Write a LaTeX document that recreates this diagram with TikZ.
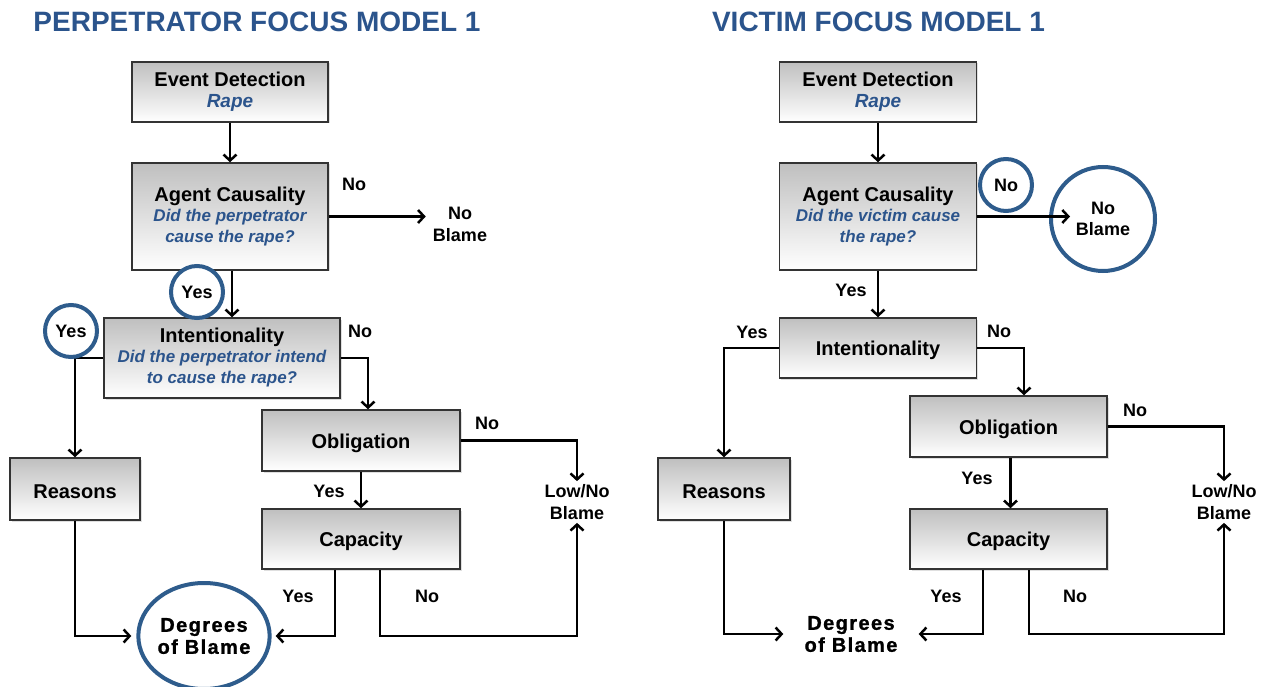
\documentclass[tikz,border=0pt]{standalone}
\usepackage{fontspec}
\setmainfont{Liberation Sans}
\newfontfamily\heavyfont[LetterSpace=7,FakeBold=1]{Liberation Sans}
\usetikzlibrary{arrows.meta,shapes.geometric,shadows}
\definecolor{titleblue}{RGB}{43,84,140}
\definecolor{ringblue}{RGB}{46,92,140}
\newcommand{\ask}[1]{{\fontsize{17}{21}\selectfont\itshape\color{titleblue}#1}}

\begin{document}
\begin{tikzpicture}[x=1pt,y=-1pt,line width=2.5pt,
  >={Straight Barb[length=6pt,width=13pt]},
  blk/.style={draw=black!80,line width=1.5pt,top color=black!25,middle color=black!3,bottom color=white,
    drop shadow={opacity=0.25,shadow xshift=1.5pt,shadow yshift=-1.5pt},
    align=center,inner sep=0pt,font=\fontsize{20}{21}\selectfont\bfseries,
    execute at begin node={\rule{0pt}{20pt}}},
  ring/.style={circle,draw=ringblue,line width=4pt,fill=white,inner sep=0pt,
    align=center,font=\fontsize{18}{21}\selectfont\bfseries},
  lbl/.style={align=center,inner sep=2pt,font=\fontsize{18}{22}\selectfont\bfseries},
  ttl/.style={text=titleblue,font=\fontsize{28}{32}\selectfont\bfseries},
  dob/.style={align=center,inner xsep=20pt,font=\fontsize{20}{22}\selectfont\heavyfont\bfseries}]
\useasboundingbox (0,0) rectangle (1267,687);

% perpetrator focus
\node[ttl] (t_1) at (257,22) {PERPETRATOR FOCUS MODEL 1};
\node[blk,minimum width=196,minimum height=60]  (ev_1) at (230,92)    {Event Detection\\\ask{\fontsize{19}{21}\selectfont Rape}};
\node[blk,minimum width=196,minimum height=107] (ag_1) at (230,216.5) {Agent Causality\\[-1pt]\ask{Did the perpetrator}\\\ask{cause the rape?}};
\node[blk,minimum width=236,minimum height=80]  (in_1) at (222,358)   {Intentionality\\[-1pt]\ask{Did the perpetrator intend}\\\ask{to cause the rape?}};
\node[blk,minimum width=198,minimum height=61]  (ob_1) at (361,440.5) {Obligation};
\node[blk,minimum width=198,minimum height=60]  (ca_1) at (361,539)   {Capacity};
\node[blk,minimum width=130,minimum height=62]  (re_1) at (75,489)    {Reasons};
\node[lbl] (nb_1) at (460,224) {No\\Blame};
\node[lbl] (ln_1) at (577,502) {Low/No\\Blame};
\node[ring,ellipse,minimum width=124,minimum height=106,font=\fontsize{20}{22}\selectfont\heavyfont\bfseries] (db_1) at (204,636)
  {Degrees\\of Blame};

\path[->] (ev_1) edge (ag_1)
          (ag_1.east) edge ([xshift=-4]nb_1.west |- ag_1.east)
          ([xshift=2]ag_1.south) edge ([xshift=2]ag_1.south |- in_1.north)
          (ob_1) edge (ca_1);
\draw[->] (in_1.west) -| (re_1.north);
\draw[->] (in_1.east) -| ([xshift=7]ob_1.north);
\draw[->] (ob_1.east) -| (ln_1.north);
\draw[->,shorten >=4pt] ([xshift=-26]ca_1.south) |- (db_1.east);
\draw[->] ([xshift=19]ca_1.south) |- (db_1 -| ln_1) -- (ln_1.south);
\draw[->,shorten >=5pt] (re_1.south) |- (db_1.west);

\node[lbl] (no_a1)  at (354,184) {No};
\node[lbl] (no_b1)  at (360,331) {No};
\node[lbl] (no_c1)  at (487,423) {No};
\node[lbl] (yes_c1) at (329,491) {Yes};
\node[lbl] (yes_d1) at (298,596) {Yes};
\node[lbl] (no_d1)  at (427,596) {No};
\node[ring,minimum size=52] (yc_a1) at (197,292) {Yes};
\node[ring,minimum size=52] (yc_b1) at (71,331)  {Yes};

% victim focus
\node[ttl] (t_2) at (878.5,22) {VICTIM FOCUS MODEL 1};
\node[blk,minimum width=197,minimum height=60]  (ev_2) at (878,92)     {Event Detection\\\ask{\fontsize{19}{21}\selectfont Rape}};
\node[blk,minimum width=197,minimum height=107] (ag_2) at (878,216.5)  {Agent Causality\\[-1pt]\ask{Did the victim cause}\\\ask{the rape?}};
\node[blk,minimum width=197,minimum height=60]  (in_2) at (878,348)    {Intentionality};
\node[blk,minimum width=197,minimum height=61]  (ob_2) at (1008.5,426.5) {Obligation};
\node[blk,minimum width=197,minimum height=60]  (ca_2) at (1008.5,539)   {Capacity};
\node[blk,minimum width=132,minimum height=62]  (re_2) at (724,489)    {Reasons};
\node[ring,minimum size=104] (nb_2) at (1103,219) {No\\Blame};
\node[lbl] (ln_2) at (1224,502) {Low/No\\Blame};
\node[dob] (db_2) at (851,634) {Degrees\\of Blame};

\path[->] (ev_2) edge (ag_2)
          (ag_2.east) edge ([xshift=21]nb_2.west |- ag_2.east)
          (ag_2) edge (in_2)
          ([xshift=2]ob_2.south) edge ([xshift=2]ca_2.north);
\draw[->] (in_2.west) -| (re_2.north);
\draw[->] (in_2.east) -| ([xshift=15.5]ob_2.north);
\draw[->] (ob_2.east) -| (ln_2.north);
\draw[->] ([xshift=-25.5]ca_2.south) |- (db_2.east);
\draw[->] ([xshift=20.5]ca_2.south) |- (db_2 -| ln_2) -- (ln_2.south);
\draw[->] (re_2.south) |- (db_2.west);

\node[lbl] (yes_a2) at (851,290)  {Yes};
\node[lbl] (yes_b2) at (752,332)  {Yes};
\node[lbl] (no_b2)  at (999,331)  {No};
\node[lbl] (no_c2)  at (1135,410) {No};
\node[lbl] (yes_c2) at (977,478)  {Yes};
\node[lbl] (yes_d2) at (946,596)  {Yes};
\node[lbl] (no_d2)  at (1075,596) {No};
\node[ring,minimum size=52] (nc_2) at (1006,185) {No};
\end{tikzpicture}
\end{document}
